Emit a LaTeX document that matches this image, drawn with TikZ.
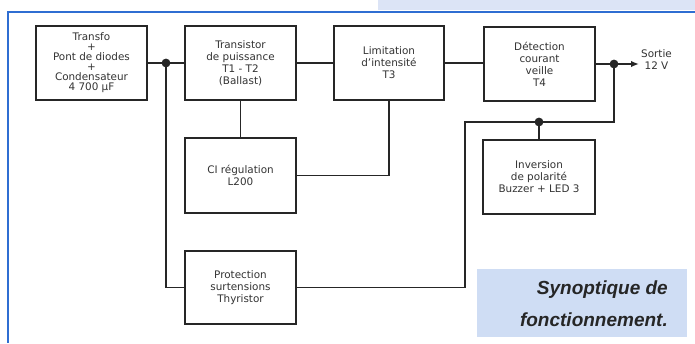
\documentclass[tikz,border=0pt]{standalone}
\usepackage{fontspec}
\setmainfont{DejaVu Sans}
\newfontfamily\capfont{Liberation Sans}
\usetikzlibrary{arrows.meta}
\definecolor{frameblue}{HTML}{2F6ED2}
\definecolor{bandblue}{HTML}{DCE4F6}
\definecolor{capblue}{HTML}{CFDDF4}
\definecolor{ink}{HTML}{262626}
\definecolor{txt}{HTML}{333333}
\begin{document}
\begin{tikzpicture}[x=1pt,y=-1pt,
  blk/.style={draw=ink,line width=1.6pt,fill=white,inner sep=0pt,align=center,
    text=txt,font=\fontsize{10.4}{12}\selectfont},
  wire/.style={draw=ink,line width=1.6pt},
  jdot/.style={fill=ink}]
\useasboundingbox (0,0) rectangle (695,343);
\fill[white] (0,0) rectangle (695,343);
% top band and frame
\fill[bandblue] (378,0) rectangle (695,10);
\draw[frameblue,line width=2pt] (695,12) -- (8,12) -- (8,343);
% blocks
\node[blk,minimum width=111,minimum height=74,font=\fontsize{10.4}{10}\selectfont] (b1) at (91.5,63)
  {Transfo\\+\\Pont de diodes\\+\\Condensateur\\4 700 µF};
\node[blk,minimum width=111,minimum height=74] (b2) at (240.5,63)
  {Transistor\\de puissance\\T1 - T2\\(Ballast)};
\node[blk,minimum width=110,minimum height=74] (b3) at (389,63)
  {Limitation\\d'intensité\\T3};
\node[blk,minimum width=111,minimum height=74] (b4) at (539.5,64)
  {Détection\\courant\\veille\\T4};
\node[blk,minimum width=111,minimum height=75] (ci) at (240.5,175.5)
  {CI régulation\\L200};
\node[blk,minimum width=111,minimum height=73] (prot) at (240.5,287.5)
  {Protection\\surtensions\\Thyristor};
\node[blk,minimum width=112,minimum height=74] (inv) at (539,177)
  {Inversion\\de polarité\\Buzzer + LED 3};
% junctions and coordinates
\coordinate (j1) at (166,63);
\coordinate (j2) at (614,64);
\coordinate (k1) at (614,122);
\coordinate (k2) at (465,122);
\coordinate (j3) at (539,122);
\coordinate (out) at (639,64);
% wires
\draw[wire] (b1.east) -- (b2.west);
\draw[wire] (j1) |- (prot.west);
\draw[wire] (b2.south) -- (ci.north);
\draw[wire] (b2.east) -- (b3.west);
\draw[wire] (b3.south) |- (ci.east);
\draw[wire] (b3.east) -- (b3.east -| b4.west);
\draw[wire] (b4.east) -- (j2);
\draw[wire,-{Latex[length=8pt,width=6.5pt]}] (j2) -- (out);
\draw[wire] (j2) -- (k1) -- (k2) |- (prot.east);
\draw[wire] (j3) -- (inv.north);
\fill[jdot] (j1) circle (4.4);
\fill[jdot] (j2) circle (4.4);
\fill[jdot] (j3) circle (4.4);
% output label
\node[anchor=west,align=center,text=txt,inner sep=0pt,font=\fontsize{10.4}{12}\selectfont] (sortie) at (641,60)
  {Sortie\\12 V};
% caption
\fill[capblue] (477,269) rectangle (687,337);
\node[anchor=base east,inner sep=0pt,text=ink,font=\capfont\bfseries\itshape\fontsize{19}{22}\selectfont] (cap1) at (668,294) {Synoptique de};
\node[anchor=base east,inner sep=0pt,text=ink,font=\capfont\bfseries\itshape\fontsize{19}{22}\selectfont] (cap2) at (668,326) {fonctionnement.};
\end{tikzpicture}
\end{document}
